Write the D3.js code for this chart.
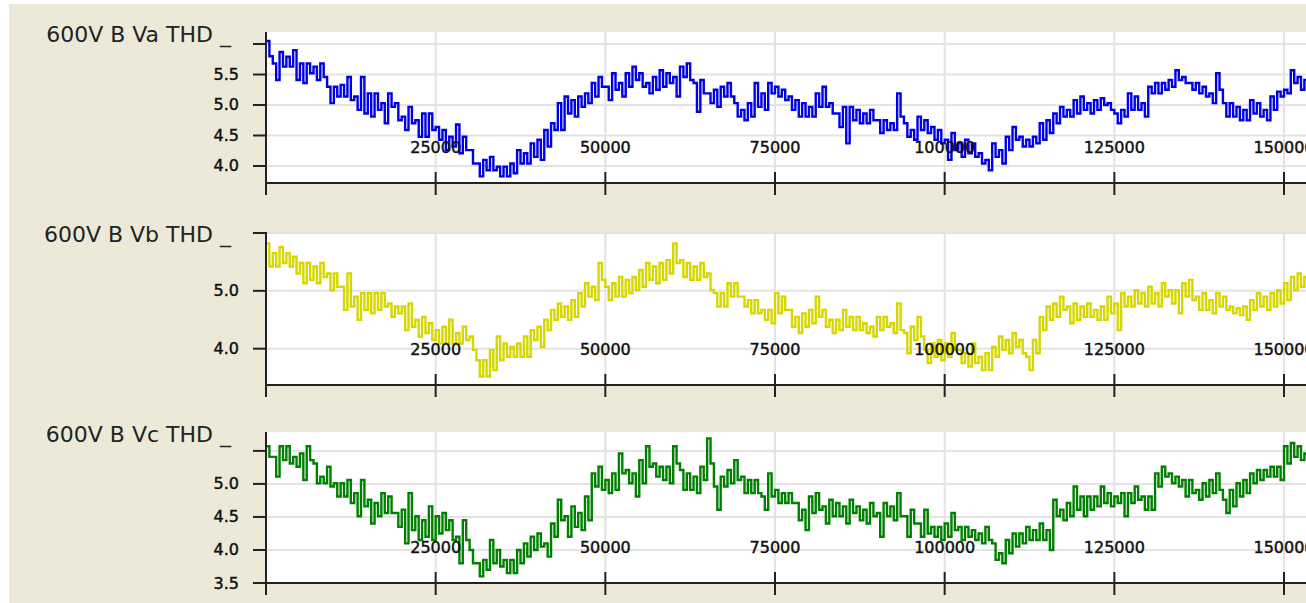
<!DOCTYPE html>
<html>
<head>
<meta charset="utf-8">
<script src="https://cdnjs.cloudflare.com/ajax/libs/d3/7.8.5/d3.min.js"></script>
<style>
  html, body { margin: 0; padding: 0; background: #fff; }
  svg { display: block; font-family: "DejaVu Sans", sans-serif; }
</style>
</head>
<body>
<div id="chart"></div>
<script>
// sample step on the x axis, each bucket has a high and a low reading
var xStep = 1000;
var xTicks = [25000, 50000, 75000, 100000, 125000, 150000];

var titles = ["600V B Va THD _", "600V B Vb THD _", "600V B Vc THD _"];
var colors = ["#0000e6", "#d7d700", "#008000"];

var vaTicks = [4.0, 4.5, 5.0, 5.5, 6.0];
var vbTicks = [4.0, 5.0, 6.0];
var vcTicks = [3.5, 4.0, 4.5, 5.0, 5.5];
var vaTickLabels = ["4.0", "4.5", "5.0", "5.5", ""];
var vbTickLabels = ["4.0", "5.0", ""];
var vcTickLabels = ["3.5", "4.0", "4.5", "5.0", ""];

var vaHi = [6.05,5.68,5.87,5.79,5.90,5.68,5.68,5.63,5.68,5.30,
  5.30,5.33,5.46,5.14,5.46,5.19,5.19,5.03,5.19,5.03,
  4.81,4.97,4.75,4.86,4.86,4.64,4.59,4.48,4.68,4.48,
  4.26,4.04,4.10,4.15,3.99,3.99,4.04,4.26,4.21,4.37,
  4.43,4.59,4.70,5.03,5.14,5.08,5.14,5.19,5.36,5.46,
  5.30,5.52,5.36,5.52,5.63,5.52,5.36,5.46,5.57,5.52,
  5.46,5.63,5.68,5.36,5.41,5.19,5.25,5.30,5.36,5.03,
  4.92,5.03,5.36,5.19,5.36,5.30,5.25,5.14,5.08,5.03,
  4.97,5.19,5.30,5.03,4.86,4.97,4.97,4.92,4.86,4.92,
  4.75,4.75,4.70,5.19,4.70,4.59,4.81,4.75,4.64,4.59,
  4.43,4.54,4.37,4.43,4.37,4.21,4.10,4.37,4.26,4.48,
  4.64,4.48,4.43,4.48,4.70,4.75,4.86,4.97,4.92,5.08,
  5.14,5.03,5.08,5.11,5.03,4.86,4.92,5.19,5.14,5.03,
  5.30,5.36,5.36,5.41,5.57,5.46,5.36,5.36,5.30,5.19,
  5.52,5.03,5.03,4.97,4.92,5.08,5.03,4.92,5.14,5.22,
  5.25,5.57,5.46,5.41];
var vaLo = [5.80,5.41,5.63,5.63,5.41,5.36,5.52,5.41,5.46,5.03,
  5.14,5.14,5.08,4.92,4.86,4.81,4.92,4.70,4.97,4.75,
  4.59,4.70,4.48,4.48,4.59,4.43,4.26,4.32,4.21,4.26,
  4.04,3.83,3.93,3.93,3.83,3.83,3.88,4.04,4.04,4.15,
  4.10,4.32,4.59,4.59,4.86,4.81,4.97,5.03,5.14,5.30,
  5.08,5.25,5.14,5.30,5.41,5.30,5.19,5.25,5.30,5.36,
  5.14,5.46,5.41,4.89,5.19,5.03,4.97,5.14,5.14,4.81,
  4.75,4.81,4.97,4.92,5.19,5.14,5.08,4.92,4.81,4.81,
  4.81,4.97,4.97,4.86,4.64,4.37,4.75,4.70,4.70,4.75,
  4.54,4.59,4.59,4.81,4.48,4.43,4.59,4.54,4.43,4.37,
  4.10,4.26,4.15,4.21,4.15,4.04,3.93,4.15,4.04,4.26,
  4.43,4.32,4.32,4.37,4.43,4.54,4.70,4.81,4.81,4.86,
  4.92,4.86,4.92,5.00,4.92,4.70,4.81,4.92,4.92,4.81,
  5.19,5.19,5.25,5.30,5.41,5.36,5.25,5.19,5.14,5.03,
  5.25,4.81,4.81,4.75,4.75,4.86,4.81,4.75,4.92,5.14,
  5.19,5.36,5.25,5.25];

var vbHi = [5.82,5.65,5.76,5.65,5.59,5.48,5.48,5.42,5.48,5.30,
  5.30,5.07,5.30,4.90,4.96,4.96,4.96,4.96,4.78,4.73,
  4.73,4.78,4.50,4.55,4.44,4.32,4.38,4.50,4.27,4.38,
  4.21,3.80,3.80,3.98,4.21,4.09,4.03,4.09,4.21,4.32,
  4.38,4.50,4.67,4.78,4.73,4.84,4.96,5.13,5.07,5.48,
  5.07,5.13,5.24,5.19,5.24,5.36,5.48,5.42,5.48,5.53,
  5.82,5.53,5.48,5.42,5.48,5.30,4.96,4.96,5.13,5.13,
  4.90,4.84,4.84,4.67,4.67,4.96,4.90,4.67,4.55,4.61,
  4.67,4.90,4.67,4.50,4.50,4.67,4.55,4.55,4.44,4.38,
  4.55,4.55,4.44,4.78,4.27,4.38,4.55,3.98,4.09,4.15,
  4.09,4.27,3.98,3.92,4.09,3.86,3.92,4.03,4.21,4.15,
  4.27,4.15,3.86,4.15,4.55,4.73,4.78,4.90,4.73,4.78,
  4.73,4.78,4.67,4.73,4.90,4.78,4.96,4.90,5.01,4.96,
  5.07,4.96,5.13,5.01,5.01,5.13,5.19,4.90,4.96,4.84,
  4.96,4.90,4.73,4.70,4.73,4.84,4.96,4.90,4.96,5.01,
  5.13,5.24,5.30,5.24];
var vbLo = [5.42,5.42,5.48,5.42,5.30,5.13,5.19,5.13,5.24,5.01,
  5.07,4.67,4.73,4.50,4.67,4.61,4.67,4.73,4.55,4.61,
  4.32,4.38,4.21,4.27,4.15,4.09,4.09,4.09,4.09,4.15,
  3.98,3.52,3.52,3.63,3.80,3.86,3.86,3.86,3.86,4.15,
  4.03,4.32,4.50,4.55,4.50,4.55,4.73,4.90,4.84,5.19,
  4.84,4.90,4.90,4.96,5.01,5.07,5.19,5.13,5.19,5.30,
  5.48,5.24,5.19,5.19,5.24,5.01,4.73,4.73,4.90,4.90,
  4.73,4.61,4.61,4.50,4.44,4.61,4.67,4.38,4.27,4.38,
  4.44,4.55,4.38,4.27,4.32,4.38,4.32,4.32,4.27,4.21,
  4.32,4.38,4.27,4.32,3.92,4.15,4.21,3.75,3.86,3.80,
  3.86,3.98,3.75,3.69,3.75,3.63,3.63,3.86,3.98,3.92,
  4.03,3.92,3.63,3.92,4.32,4.50,4.55,4.67,4.44,4.50,
  4.55,4.55,4.50,4.50,4.61,4.32,4.73,4.73,4.78,4.73,
  4.78,4.73,4.90,4.78,4.61,4.90,4.84,4.67,4.67,4.61,
  4.73,4.67,4.61,4.58,4.50,4.67,4.73,4.67,4.73,4.78,
  4.84,5.01,5.07,5.07];

var vcHi = [5.57,5.41,5.57,5.57,5.41,5.46,5.57,5.31,5.11,5.26,
  5.01,5.01,5.06,4.86,5.06,4.76,4.71,4.86,4.81,4.56,
  4.61,4.86,4.51,4.45,4.66,4.51,4.56,4.45,4.20,4.45,
  4.00,3.80,3.85,4.15,4.00,3.85,3.85,4.00,4.10,4.20,
  4.25,4.10,4.40,4.76,4.51,4.66,4.56,4.81,5.16,5.26,
  5.06,5.16,5.46,5.21,5.16,5.36,5.57,5.31,5.26,5.26,
  5.57,5.21,5.16,5.11,5.26,5.69,4.96,5.11,5.21,5.36,
  5.11,5.06,5.06,4.81,5.16,4.91,4.86,4.86,4.71,4.61,
  4.81,4.86,4.66,4.76,4.71,4.66,4.76,4.66,4.61,4.71,
  4.56,4.71,4.66,4.86,4.51,4.61,4.40,4.61,4.35,4.35,
  4.40,4.56,4.35,4.35,4.30,4.25,4.35,4.10,3.95,4.15,
  4.25,4.25,4.35,4.30,4.40,4.30,4.76,4.61,4.71,4.96,
  4.81,4.81,4.81,4.96,4.86,4.81,4.86,4.86,4.96,4.81,
  4.81,5.16,5.26,5.16,5.11,5.06,5.06,4.91,5.01,5.06,
  5.16,4.76,4.91,5.01,5.06,5.16,5.21,5.21,5.26,5.26,
  5.57,5.62,5.57,5.46];
var vcLo = [5.41,5.11,5.36,5.31,5.26,5.06,5.36,5.01,5.01,4.96,
  4.81,4.81,4.71,4.51,4.66,4.40,4.51,4.56,4.56,4.35,
  4.10,4.30,4.15,4.20,4.15,4.25,4.30,4.15,3.80,4.15,
  3.80,3.60,3.70,3.80,3.75,3.65,3.65,3.80,3.90,4.00,
  4.05,3.90,4.20,4.45,4.20,4.35,4.30,4.45,4.96,4.91,
  4.86,4.91,5.16,5.01,4.81,5.01,5.26,5.11,5.06,5.01,
  5.31,4.91,4.91,4.86,5.06,5.31,4.61,4.96,5.01,5.06,
  4.86,4.86,4.86,4.61,4.81,4.71,4.71,4.71,4.45,4.30,
  4.56,4.61,4.40,4.51,4.51,4.40,4.56,4.45,4.40,4.51,
  4.20,4.51,4.45,4.51,4.20,4.40,4.20,4.25,4.20,4.15,
  4.20,4.30,4.15,4.20,4.15,4.10,4.15,3.85,3.80,3.95,
  4.05,4.10,4.15,4.15,4.15,4.00,4.51,4.45,4.51,4.61,
  4.51,4.61,4.66,4.71,4.66,4.71,4.51,4.71,4.76,4.61,
  4.61,4.96,5.11,5.01,4.96,4.81,4.86,4.76,4.81,4.86,
  4.91,4.56,4.66,4.81,4.86,5.01,5.06,5.11,5.11,5.06,
  5.31,5.41,5.36,5.26];

var width = 1306, height = 603;
var plotLeft = 266, plotRight = 1306;

var panels = [
  {title: titles[0], color: colors[0], hi: vaHi, lo: vaLo, ticks: vaTicks, labels: vaTickLabels,
   top: 32, bottom: 183, domain: [3.721, 6.197]},
  {title: titles[1], color: colors[1], hi: vbHi, lo: vbLo, ticks: vbTicks, labels: vbTickLabels,
   top: 232, bottom: 385, domain: [3.372, 6.017]},
  {title: titles[2], color: colors[2], hi: vcHi, lo: vcLo, ticks: vcTicks, labels: vcTickLabels,
   top: 432, bottom: 583, domain: [3.5, 5.786]}
];

var svg = d3.select("#chart")
  .append("svg")
  .attr("width", width)
  .attr("height", height);

// beige window background
svg.append("rect")
  .attr("x", 9).attr("y", 4)
  .attr("width", width - 9).attr("height", height - 4)
  .attr("fill", "#ece9d8");

var xScale = d3.scaleLinear()
  .domain([0, 153240])
  .range([plotLeft, plotRight]);

panels.forEach(function(p, i) {
  var yScale = d3.scaleLinear()
    .domain(p.domain)
    .range([p.bottom, p.top]);

  var g = svg.append("g");

  g.append("rect")
    .attr("x", plotLeft).attr("y", p.top)
    .attr("width", plotRight - plotLeft).attr("height", p.bottom - p.top)
    .attr("fill", "#fff");

  // grid
  g.selectAll(".hgrid")
    .data(p.ticks)
    .enter()
    .append("line")
    .attr("x1", plotLeft).attr("x2", plotRight)
    .attr("y1", function(d) { return yScale(d); })
    .attr("y2", function(d) { return yScale(d); })
    .attr("stroke", "#e3e3e3")
    .attr("stroke-width", 2);

  g.selectAll(".vgrid")
    .data(xTicks)
    .enter()
    .append("line")
    .attr("x1", function(d) { return xScale(d); })
    .attr("x2", function(d) { return xScale(d); })
    .attr("y1", p.top).attr("y2", p.bottom)
    .attr("stroke", "#e3e3e3")
    .attr("stroke-width", 2);

  // series: high and low reading of every bucket
  var pts = [];
  p.hi.forEach(function(v, k) {
    pts.push({x: k * xStep, y: v});
    pts.push({x: k * xStep + xStep / 2, y: p.lo[k]});
  });

  g.append("clipPath")
    .attr("id", "clip" + i)
    .append("rect")
    .attr("x", plotLeft).attr("y", p.top)
    .attr("width", plotRight - plotLeft).attr("height", p.bottom - p.top);

  var line = d3.line()
    .x(function(d) { return xScale(d.x); })
    .y(function(d) { return yScale(d.y); })
    .curve(d3.curveStepAfter);

  g.append("path")
    .datum(pts)
    .attr("clip-path", "url(#clip" + i + ")")
    .attr("fill", "none")
    .attr("stroke", p.color)
    .attr("stroke-width", 2.4)
    .attr("d", line);

  // x tick labels sit inside the plot, above the axis
  g.selectAll(".xlab")
    .data(xTicks)
    .enter()
    .append("text")
    .attr("x", function(d) { return xScale(d); })
    .attr("y", p.bottom - 36)
    .attr("text-anchor", "middle")
    .attr("dominant-baseline", "central")
    .attr("font-size", 16)
    .attr("fill", "#111")
    .attr("stroke", "#111")
    .attr("stroke-width", 0.45)
    .text(function(d) { return d; });

  // x axis
  g.append("line")
    .attr("x1", plotLeft).attr("x2", plotRight)
    .attr("y1", p.bottom).attr("y2", p.bottom)
    .attr("stroke", "#222").attr("stroke-width", 2);

  g.selectAll(".xtick")
    .data(xTicks)
    .enter()
    .append("line")
    .attr("x1", function(d) { return xScale(d); })
    .attr("x2", function(d) { return xScale(d); })
    .attr("y1", p.bottom - 11).attr("y2", p.bottom + 12)
    .attr("stroke", "#222").attr("stroke-width", 2);

  // y axis
  g.append("line")
    .attr("x1", plotLeft).attr("x2", plotLeft)
    .attr("y1", p.top).attr("y2", p.bottom + 12)
    .attr("stroke", "#222").attr("stroke-width", 2);

  g.selectAll(".ytick")
    .data(p.ticks)
    .enter()
    .append("line")
    .attr("x1", plotLeft - 13).attr("x2", plotLeft)
    .attr("y1", function(d) { return yScale(d); })
    .attr("y2", function(d) { return yScale(d); })
    .attr("stroke", "#222").attr("stroke-width", 2);

  g.selectAll(".ylab")
    .data(p.ticks)
    .enter()
    .append("text")
    .attr("x", plotLeft - 27)
    .attr("y", function(d) { return yScale(d); })
    .attr("text-anchor", "end")
    .attr("dominant-baseline", "central")
    .attr("font-size", 16)
    .attr("fill", "#111")
    .attr("stroke", "#111")
    .attr("stroke-width", 0.45)
    .text(function(d, j) { return p.labels[j]; });

  g.append("text")
    .attr("x", 231)
    .attr("y", p.top + 10)
    .attr("text-anchor", "end")
    .attr("font-size", 22)
    .attr("fill", "#222")
    .text(p.title);
});
</script>
</body>
</html>
